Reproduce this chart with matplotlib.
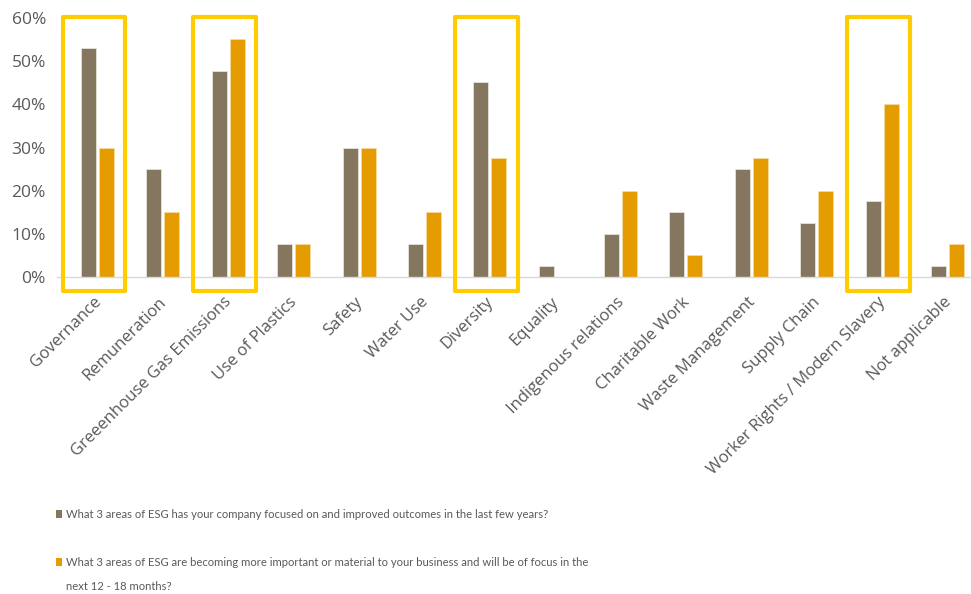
import matplotlib
matplotlib.use("Agg")
import matplotlib.pyplot as plt
import matplotlib.transforms as mtransforms
from matplotlib.patches import Rectangle
import numpy as np

categories = [
    "Governance", "Remuneration", "Greeenhouse Gas Emissions", "Use of Plastics",
    "Safety", "Water Use", "Diversity", "Equality", "Indigenous relations",
    "Charitable Work", "Waste Management", "Supply Chain",
    "Worker Rights / Modern Slavery", "Not applicable",
]
focused_past = [53.0, 25.0, 47.8, 7.5, 30.0, 7.5, 45.2, 2.5, 10.0, 15.0, 25.0, 12.5, 17.5, 2.5]
focus_next = [30.0, 15.0, 55.3, 7.5, 30.0, 15.0, 27.5, 0.0, 20.0, 5.0, 27.5, 20.0, 40.0, 7.5]
series_labels = [
    "What 3 areas of ESG has your company focused on and improved outcomes in the last few years?",
    "What 3 areas of ESG are becoming more important or material to your business and will be of focus in the\nnext 12 - 18 months?",
]
highlighted = ["Governance", "Greeenhouse Gas Emissions", "Diversity", "Worker Rights / Modern Slavery"]
yticks = [0, 10, 20, 30, 40, 50, 60]

BROWN = "#857660"
ORANGE = "#E59C00"
GOLD = "#FFCC00"
TEXT = "#595959"

W, H = 971, 594
fig = plt.figure(figsize=(W / 100, H / 100), dpi=100)
ax = fig.add_axes([57 / W, 1 - 276.7 / H, 1 - 57 / W, (276.7 - 18.3) / H])

x = np.arange(len(categories))
bw = 0.23
off = 0.138
ax.bar(x - off, focused_past, width=bw, color=BROWN, edgecolor="#EDE8E2", linewidth=0.5)
ax.bar(x + off, focus_next, width=bw, color=ORANGE, edgecolor="#F6DDA8", linewidth=0.5)

ax.set_xlim(-0.62, 13.36)
ax.set_ylim(0, 60)
for s in ["top", "right", "left"]:
    ax.spines[s].set_visible(False)
ax.spines["bottom"].set_color("#D9D9D9")
ax.spines["bottom"].set_linewidth(1.0)

ax.set_yticks(yticks)
ax.set_yticklabels([f"{v}%" for v in yticks], fontsize=12.5, color=TEXT, family="Open Sans")
ax.tick_params(axis="y", length=0, pad=8)

ax.set_xticks(x)
ax.set_xticklabels(categories, rotation=45, ha="right", va="top", rotation_mode="anchor",
                   fontsize=12, color=TEXT, family="Open Sans")
ax.tick_params(axis="x", length=0, pad=12.5)
shift = mtransforms.ScaledTranslation(-4.5 / 100, 0, fig.dpi_scale_trans)
for lab in ax.get_xticklabels():
    lab.set_transform(lab.get_transform() + shift)

# highlight boxes around key categories
for name in highlighted:
    i = categories.index(name)
    rect = Rectangle((i - 0.535, -3.3), 0.96, 63.7, fill=False, edgecolor=GOLD,
                     linewidth=3.0, joinstyle="round", clip_on=False, zorder=5)
    ax.add_patch(rect)

# legend rows below the chart (baselines in pixels from the top)
rows = [(series_labels[0], BROWN, 518), (series_labels[1], ORANGE, 566)]
line_step = 24
for label, color, base in rows:
    fig.patches.append(Rectangle((56 / W, 1 - base / H), 5.5 / W, 8 / H,
                                 transform=fig.transFigure, facecolor=color,
                                 edgecolor="none"))
    for k, line in enumerate(label.split("\n")):
        fig.text(66.5 / W, 1 - (base + k * line_step) / H, line, ha="left",
                 va="baseline", fontsize=8.1, color=TEXT, family="Lato")

fig.savefig("out.png", dpi=100)
